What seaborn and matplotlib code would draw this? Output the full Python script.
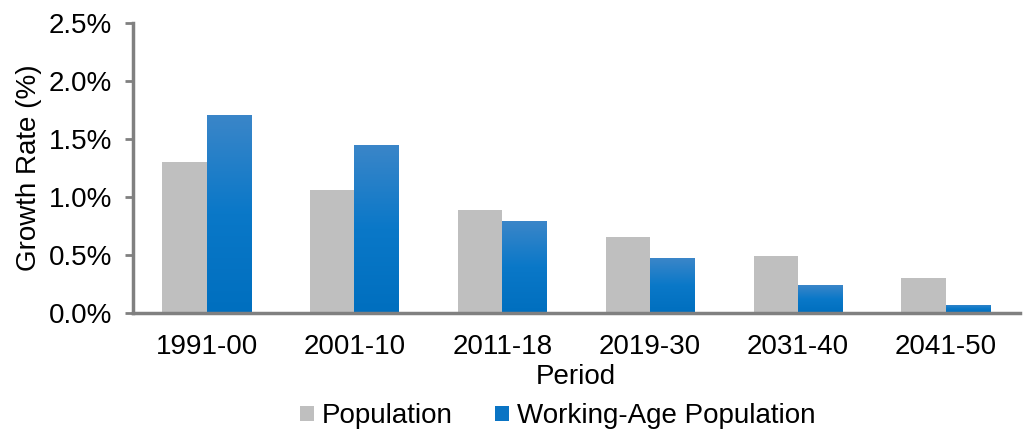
import numpy as np
import pandas as pd
import seaborn as sns
import matplotlib.pyplot as plt
from matplotlib.ticker import PercentFormatter, FixedLocator
from matplotlib.colors import LinearSegmentedColormap

sns.set_style("white")
plt.rcParams["font.family"] = ["Liberation Sans", "DejaVu Sans"]
plt.rcParams["text.color"] = "black"
plt.rcParams["axes.labelcolor"] = "black"
plt.rcParams["xtick.labelcolor"] = "black"
plt.rcParams["ytick.labelcolor"] = "black"

periods = ["1991-00", "2001-10", "2011-18", "2019-30", "2031-40", "2041-50"]
population = [1.30, 1.06, 0.89, 0.655, 0.49, 0.30]
working_age = [1.71, 1.45, 0.79, 0.47, 0.24, 0.07]

df = pd.DataFrame({
    "Period": periods * 2,
    "Growth": population + working_age,
    "Series": ["Population"] * len(periods) + ["Working-Age Population"] * len(periods),
})

fig = plt.figure(figsize=(10.29, 4.30), dpi=100)
ax = fig.add_axes([0.129, 0.272, 0.862, 0.675])

sns.barplot(data=df, x="Period", y="Growth", hue="Series",
            palette=["#bfbfbf", "#0a74c4"], saturation=1, width=0.6, gap=0, ax=ax,
            edgecolor="none", linewidth=0, errorbar=None)

# gradient on the blue bars, lighter at the top
grad = np.linspace(0, 1, 256).reshape(-1, 1)
cmap = LinearSegmentedColormap.from_list("blu", ["#006fbf", "#0a78c8", "#3b86c9"])
for patch in ax.patches[len(periods):2 * len(periods)]:
    x0, y0 = patch.get_x(), patch.get_y()
    w, h = patch.get_width(), patch.get_height()
    if h <= 0:
        continue
    im = ax.imshow(grad, extent=[x0, x0 + w, y0, y0 + h], origin="lower",
                   cmap=cmap, aspect="auto", zorder=patch.get_zorder() + 0.1)
    im.set_clip_path(patch)

ax.set_xlim(-0.5, len(periods) - 0.5)
ax.set_ylim(0, 2.5)
ax.set_yticks([0, 0.5, 1.0, 1.5, 2.0, 2.5])
ax.yaxis.set_major_formatter(PercentFormatter(decimals=1))

ax.xaxis.set_minor_locator(FixedLocator(np.arange(-0.5, len(periods), 1.0)))
ax.tick_params(axis="x", which="major", length=0, pad=15, labelsize=20)
ax.tick_params(axis="x", which="minor", length=6, width=2, color="#808080", direction="out")
ax.tick_params(axis="y", length=6, width=2, color="#808080", direction="out", left=True,
               labelsize=20, pad=9)

for side in ["top", "right"]:
    ax.spines[side].set_visible(False)
for side in ["left", "bottom"]:
    ax.spines[side].set_color("#808080")
    ax.spines[side].set_linewidth(2.5)

ax.set_xlabel("Period", fontsize=20, labelpad=3)
ax.set_ylabel("Growth Rate (%)", fontsize=20, labelpad=5)

ax.legend(loc="center", bbox_to_anchor=(0.479, -0.356), ncol=2, frameon=False,
          fontsize=20, handlelength=0.5, handleheight=0.5, handletextpad=0.3,
          columnspacing=1.5, borderaxespad=0, borderpad=0)

fig.savefig("out.png", dpi=100)
